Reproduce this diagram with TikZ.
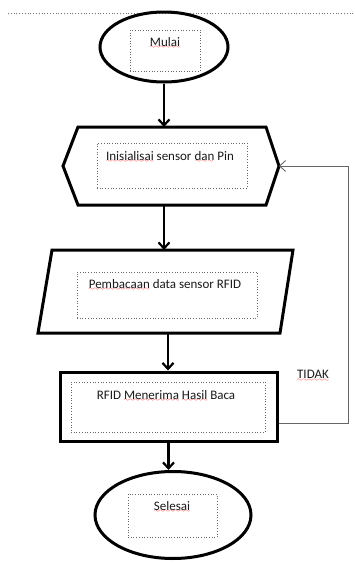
\documentclass[tikz,border=0pt]{standalone}
\usepackage{fontspec}
\setmainfont{Carlito}
\usetikzlibrary{shapes.geometric,arrows.meta}
\font\wavefont=lasy6
\newcommand\spellerr[1]{\setbox0\hbox{#1}\rlap{\textcolor{red}{\lower2.6pt\hbox to\wd0{\xleaders\hbox{\wavefont\char58}\hfil}}}\box0\relax}
\begin{document}
\begin{tikzpicture}[x=1pt,y=-1pt,
  shp/.style={draw=black, line width=3pt, line join=miter},
  dbox/.style={draw=black!60, dotted, line width=0.7pt, inner sep=0pt},
  lbl/.style={inner sep=0pt, font=\fontsize{13}{16}\selectfont, text=black!90},
  conn/.style={line width=2.2pt, -{Straight Barb[length=6pt,width=11pt]}},
  back/.style={draw=black!60, line width=0.9pt, -{Straight Barb[length=6pt,width=11pt]}}]
\useasboundingbox (0,0) rectangle (355,563);
% top dotted rule
\draw[black!55, dotted, line width=0.8pt] (8,13) -- (355,13);
% Mulai
\node[shp, ellipse, minimum width=128pt, minimum height=70pt] (mulai) at (164,47) {};
\node[dbox, minimum width=70pt, minimum height=41pt] (bmulai) at (165,50.5) {};
\node[lbl] (tmulai) at (165,43) {\spellerr{Mulai}};
% Hexagon
\draw[shp] (63,166) -- (78,127) -- (266,127) -- (279,166) -- (266,205) -- (78,205) -- cycle;
\coordinate (hexN) at (164,127);
\coordinate (hexS) at (164,205);
\coordinate (hexE) at (279,166);
\node[dbox, minimum width=150pt, minimum height=45pt] (bhex) at (172,165.5) {};
\node[lbl] (thex) at (170,157) {\spellerr{Inisialisai} sensor \spellerr{dan} Pin};
% Parallelogram
\draw[shp] (52,250) -- (293,250) -- (280,333) -- (38,333) -- cycle;
\coordinate (parN) at (164,250);
\coordinate (parS) at (168,333);
\node[dbox, minimum width=180pt, minimum height=46pt] (bpar) at (167,295) {};
\node[lbl] (tpar) at (165,285) {\spellerr{Pembacaan} data sensor RFID};
% Rectangle
\node[shp, rectangle, minimum width=217pt, minimum height=69pt] (rfid) at (168.5,406.5) {};
\node[dbox, minimum width=194pt, minimum height=50pt] (brfid) at (168,407) {};
\node[lbl] (trfid) at (166,396) {RFID \spellerr{Menerima} \spellerr{Hasil} Baca};
% Selesai
\node[shp, ellipse, minimum width=156pt, minimum height=87pt] (selesai) at (173,515) {};
\node[dbox, minimum width=89pt, minimum height=43pt] (bsel) at (172.5,515.5) {};
\node[lbl] (tsel) at (172,507) {\spellerr{Selesai}};
% TIDAK
\node[lbl] (tidak) at (313,376) {\spellerr{TIDAK}};
% connectors
\draw[conn] (mulai.south) -- (hexN);
\draw[conn] (hexS) -- (parN);
\draw[conn] (parS) -- (parS |- rfid.north);
\draw[conn] (rfid.south) -- (rfid.south |- selesai.north);
\draw[back] ([yshift=-16.5pt]rfid.east) -- ++(70,0) |- (hexE);
\end{tikzpicture}
\end{document}
